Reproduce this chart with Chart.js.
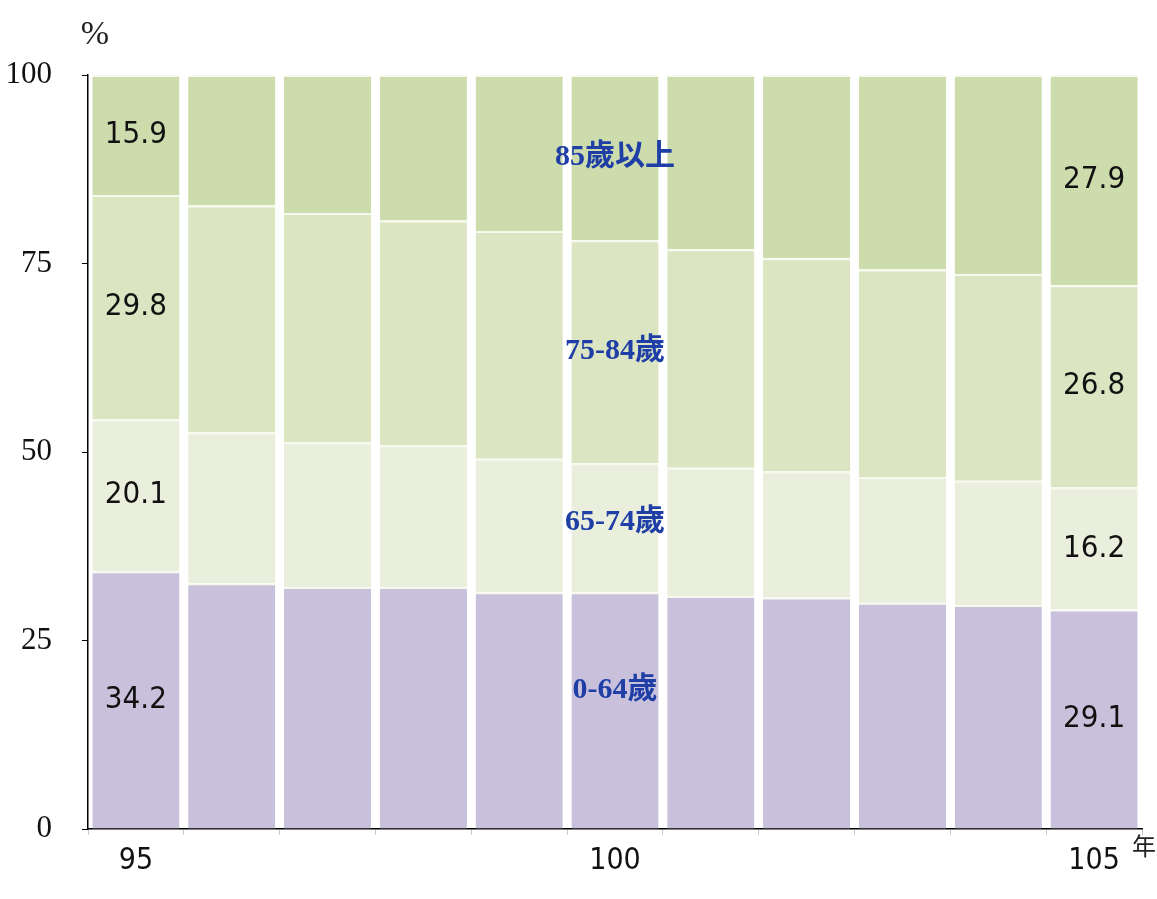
<!DOCTYPE html>
<html>
<head>
<meta charset="utf-8">
<script src="https://cdn.jsdelivr.net/npm/chart.js@4/dist/chart.umd.min.js"></script>
<style>
  html, body { margin: 0; padding: 0; background: #fff; }
  #wrap { width: 1157px; height: 899px; }
</style>
</head>
<body>
<div id="wrap"><canvas id="myChart"></canvas></div>
<script>
'use strict';

// years (ROC calendar)
const years = ['95', '96', '97', '98', '99', '100', '101', '102', '103', '104', '105'];
const shownYears = ['95', '100', '105'];
const yTicks = [0, 25, 50, 75, 100];

// share of each age group, %
const age0to64 = [34.2, 32.6, 32.1, 32.1, 31.4, 31.4, 30.9, 30.7, 30.0, 29.7, 29.1];
const age65to74 = [20.1, 20.0, 19.2, 18.8, 17.7, 17.1, 17.0, 16.7, 16.7, 16.5, 16.2];
const age75to84 = [29.8, 30.1, 30.4, 29.8, 30.2, 29.6, 29.0, 28.3, 27.5, 27.4, 26.8];
const age85up = [15.9, 17.3, 18.3, 19.3, 20.7, 21.9, 23.1, 24.3, 25.8, 26.4, 27.9];

const groupNames = ['0-64歲', '65-74歲', '75-84歲', '85歲以上'];

const numFont = '"Liberation Sans Narrow", "DejaVu Sans Condensed", sans-serif';

function makeSet(label, data, color) {
  return {
    label: label,
    data: data,
    backgroundColor: color,
    borderColor: '#f7f9ee',
    borderWidth: { top: 2, bottom: 0, left: 0, right: 0 },
    borderSkipped: false,
    barPercentage: 0.91,
    categoryPercentage: 1.0
  };
}

// value labels on first and last bar, group names on the 100 bar
const labelPlugin = {
  id: 'segLabels',
  afterDatasetsDraw(chart) {
    let c = chart.ctx;
    c.save();
    c.textAlign = 'center';
    c.textBaseline = 'middle';
    chart.data.datasets.forEach((ds, di) => {
      let meta = chart.getDatasetMeta(di);
      meta.data.forEach((bar, i) => {
        let mid = (bar.y + bar.base) / 2;
        if (i === 0 || i === years.length - 1) {
          c.font = '31px ' + numFont;
          c.fillStyle = '#111';
          c.fillText(ds.data[i].toFixed(1), bar.x, mid);
        }
        if (years[i] === '100') {
          c.font = 'bold 30px "Liberation Serif", "Noto Sans CJK TC", serif';
          c.fillStyle = '#1f3fa6';
          let off = di === 0 ? -20 : (di === 1 ? -6 : 0);
          c.fillText(ds.label, bar.x, mid + off);
        }
      });
    });
    // unit marks
    let area = chart.chartArea;
    c.font = '34px "Liberation Serif", serif';
    c.fillStyle = '#222';
    c.fillText('%', area.left + 7, area.top - 40);
    c.font = '24px "Noto Sans CJK TC", sans-serif';
    c.fillText('年', area.right + 2, area.bottom + 17);
    c.restore();
  }
};

new Chart(document.getElementById('myChart'), {
  type: 'bar',
  data: {
    labels: years,
    datasets: [
      makeSet(groupNames[0], age0to64, '#c9c1db'),
      makeSet(groupNames[1], age65to74, '#eaeedc'),
      makeSet(groupNames[2], age75to84, '#dbe5c2'),
      makeSet(groupNames[3], age85up, '#cddcad')
    ]
  },
  options: {
    responsive: true,
    maintainAspectRatio: false,
    animation: false,
    layout: { padding: { top: 75, right: 15, bottom: 12, left: 0 } },
    plugins: {
      legend: { display: false },
      tooltip: { enabled: false }
    },
    scales: {
      x: {
        stacked: true,
        border: { color: '#000', width: 1.5 },
        grid: { drawOnChartArea: false, color: '#c8c8c8', tickLength: 6 },
        ticks: {
          padding: 8,
          color: '#111',
          font: { family: numFont, size: 30 },
          maxRotation: 0,
          autoSkip: false,
          callback: function (v) {
            let y = this.getLabelForValue(v);
            return shownYears.includes(y) ? y : '';
          }
        }
      },
      y: {
        stacked: true,
        min: 0,
        max: 100,
        afterFit: (s) => { s.width = 88; },
        afterBuildTicks: (s) => { s.ticks = yTicks.map(v => ({ value: v })); },
        border: { color: '#000', width: 1.5 },
        grid: { drawOnChartArea: false, color: '#000', tickLength: 6 },
        ticks: {
          padding: 30,
          color: '#111',
          font: { family: '"Liberation Serif", serif', size: 31 }
        }
      }
    }
  },
  plugins: [labelPlugin]
});
</script>
</body>
</html>
